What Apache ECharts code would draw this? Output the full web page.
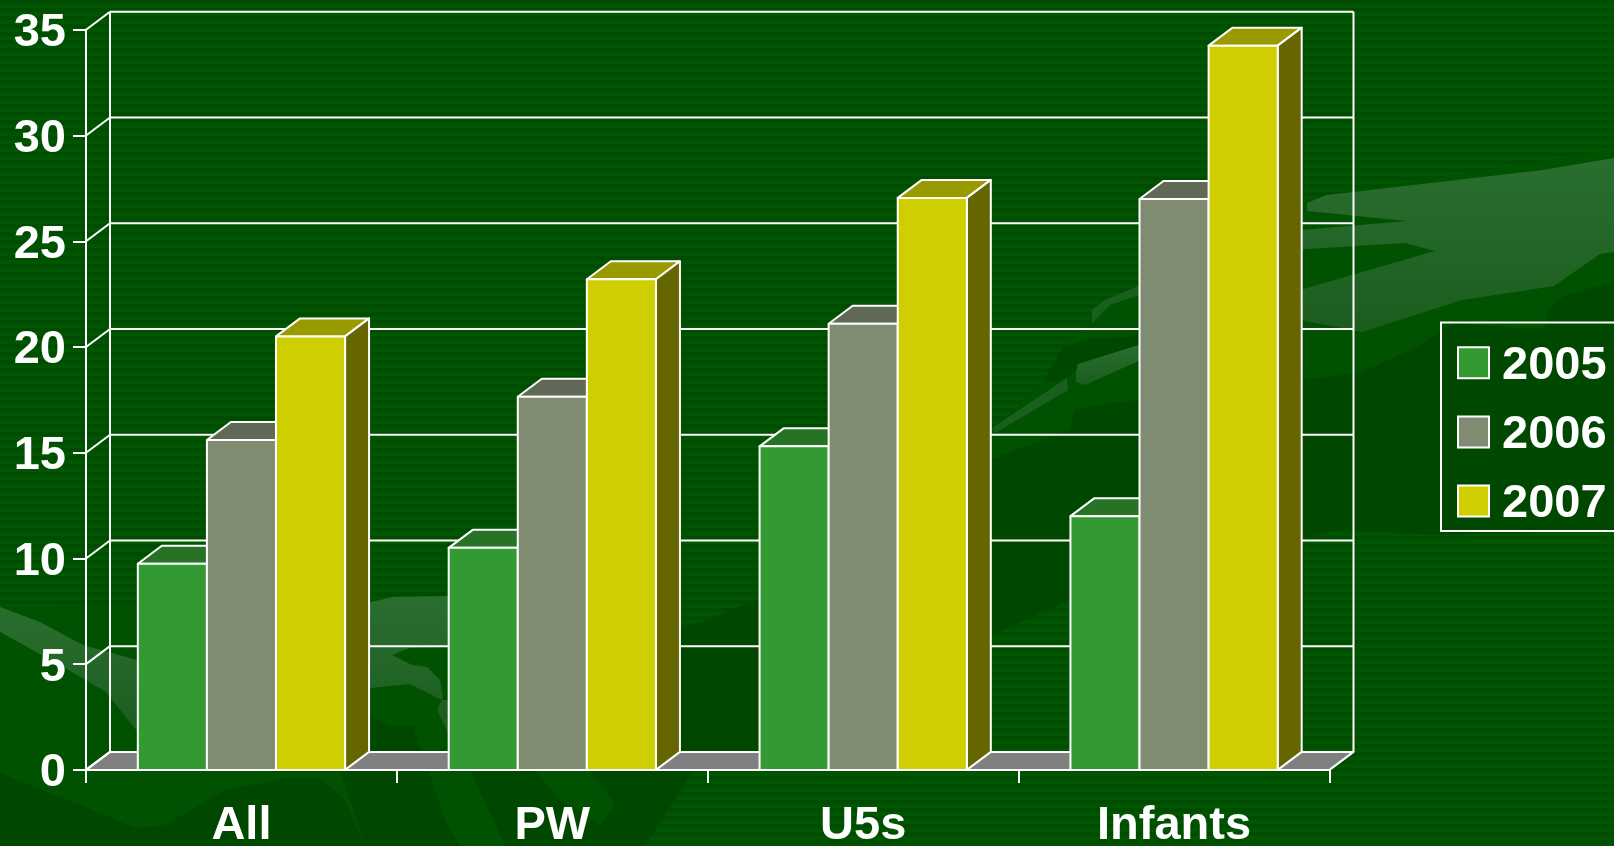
<!DOCTYPE html>
<html><head><meta charset="utf-8">
<style>html,body{margin:0;padding:0;background:#004f00}#c{width:1614px;height:846px}</style>
<script src="https://cdn.jsdelivr.net/npm/echarts@6/dist/echarts.min.js"></script>
</head><body><div id="c"></div>
<script>
const categories = ['All','PW','U5s','Infants'];
const years = ['2005','2006','2007'];
const values2005 = [9.75,10.5,15.3,12.0];
const values2006 = [15.6,17.65,21.1,27.0];
const values2007 = [20.5,23.2,27.05,34.25];
const yTicks = [0,5,10,15,20,25,30,35];

const FONT = '"Liberation Sans", Arial, sans-serif';
const DX = 24, DY = 18, LW = 2;
const palettes = [
  {front:'#339933', top:'#267326', side:'#1f5f1f'},
  {front:'#7F8C72', top:'#5F6955', side:'#4f5a46'},
  {front:'#CFCE00', top:'#999900', side:'#666600'}
];
const line = {stroke:'#fff', lineWidth:LW, lineJoin:'round'};

function barSeries(name, vals, k){
  const p = palettes[k];
  return {
    name, type:'custom', z:3+k, silent:true, animation:false,
    itemStyle:{color:p.front},
    encode:{x:0,y:1},
    data: vals.map((v,i)=>[i,v]),
    renderItem(params, api){
      const cat = api.value(0), val = api.value(1);
      const c = api.coord([cat,val]), b = api.coord([cat,0]);
      const w = api.size([1,0])[0]/4.5;
      const x0 = c[0]+(k-1.5)*w, x1 = x0+w, yt = c[1], yb = b[1];
      return {type:'group', children:[
        {type:'polygon', shape:{points:[[x0,yt],[x1,yt],[x1+DX,yt-DY],[x0+DX,yt-DY]]}, style:{fill:p.top,...line}},
        {type:'polygon', shape:{points:[[x1,yt],[x1+DX,yt-DY],[x1+DX,yb-DY],[x1,yb]]}, style:{fill:p.side,...line}},
        {type:'rect', shape:{x:x0,y:yt,width:w,height:yb-yt}, style:{fill:p.front,...line}}
      ]};
    }
  };
}
const wallSeries = {
  name:'walls', type:'custom', z:1, silent:true, animation:false,
  encode:{x:0,y:1},
  data: yTicks.map(v=>[0,v]),
  renderItem(params, api){
    const v = api.value(1);
    const cs = params.coordSys;
    const y = api.coord([0,v])[1];
    const x0 = cs.x, x1 = cs.x+cs.width;
    const kids = [];
    if(v===0){
      kids.push({type:'polygon', shape:{points:[[x0,y],[x0+DX,y-DY],[x1+DX,y-DY],[x1,y]]}, style:{fill:'#808080',...line}});
    }
    kids.push({type:'line', shape:{x1:x0,y1:y,x2:x0+DX,y2:y-DY}, style:line});
    kids.push({type:'line', shape:{x1:x0+DX,y1:y-DY,x2:x1+DX,y2:y-DY}, style:line});
    if(v===35){
      const yb = api.coord([0,0])[1];
      kids.push({type:'line', shape:{x1:x0+DX,y1:y-DY,x2:x0+DX,y2:yb-DY}, style:line});
      kids.push({type:'line', shape:{x1:x1+DX,y1:y-DY,x2:x1+DX,y2:yb-DY}, style:line});
    }
    return {type:'group', children:kids};
  }
};

/* striped slide background */
const stripe = document.createElement('canvas');
stripe.width = 8; stripe.height = 8;
const sc = stripe.getContext('2d');
sc.fillStyle = '#005500'; sc.fillRect(0,0,8,8);
sc.fillStyle = '#004C00'; sc.fillRect(0,0,8,4);

const MID='#005200', DARK='#004700', FAINT='#1A5F1E';
const LIGHT = new echarts.graphic.LinearGradient(0,0,0,1,[{offset:0,color:'#2A6E2F'},{offset:1,color:'#1C5D1F'}]);
const poly = (fill, pts)=>({type:'polygon', z:-10, silent:true, shape:{points:pts}, style:{fill}});
const decor = [
  poly(MID,[[0,607],[371,602],[448,596],[620,640],[680,628],[693,771],[645,846],[0,846]]),
  poly(LIGHT,[[0,607],[40,622],[83,645],[137,660],[140,735],[106,692],[60,665],[0,632]]),
  poly(LIGHT,[[340,606],[371,602],[393,597],[448,596],[448,647],[410,648],[392,655],[412,665],[427,667],[440,680],[443,697],[437,710],[448,733],[448,700],[442,700],[410,684],[371,688],[340,690]]),
  poly(DARK,[[0,773],[105,815],[135,828],[165,825],[225,790],[290,778],[320,778],[345,800],[365,846],[0,846]]),
  poly(DARK,[[371,716],[390,726],[413,726],[445,820],[460,846],[365,846],[340,770]]),
  poly(DARK,[[505,846],[470,770],[535,770],[560,800],[600,825],[615,805],[590,770],[620,645],[680,628],[713,618],[750,602],[800,590],[800,740],[693,771],[645,846]]),
  poly(MID,[[990,432],[1043,383],[1063,347],[1090,322],[1092,310],[1105,300],[1145,283],[1300,200],[1614,150],[1614,300],[1555,320],[1454,323],[1415,348],[1360,373],[1300,380],[1100,405],[1070,430],[990,460]]),
  poly(DARK,[[990,460],[1070,430],[1075,410],[1100,405],[1300,380],[1360,373],[1415,348],[1454,323],[1544,330],[1548,310],[1565,295],[1614,282],[1614,530],[1440,535],[1340,530],[1200,560],[1070,600],[990,636]]),
  poly(DARK,[[1043,383],[1063,347],[1093,338],[1127,337],[1145,331],[1145,346],[1077,368],[1067,378]]),
  poly(LIGHT,[[1614,158],[1543,170],[1327,195],[1307,203],[1307,211],[1407,221],[1290,231],[1290,250],[1405,243],[1435,251],[1290,293],[1290,318],[1362,332],[1462,300],[1554,286],[1600,254],[1614,252]]),
  poly(FAINT,[[1092,323],[1092,310],[1105,300],[1145,283],[1145,293],[1110,305]]),
  poly(LIGHT,[[1076,372],[1078,364],[1145,343],[1145,358],[1085,385],[1076,382]]),
  poly(FAINT,[[992,428],[1067,378],[1068,390],[995,433]])
];

const labelFont = {color:'#fff', fontFamily:FONT, fontWeight:'bold', fontSize:47};
const chart = echarts.init(document.getElementById('c'), null, {renderer:'canvas'});
chart.setOption({
  animation:false,
  backgroundColor:{image:stripe, repeat:'repeat'},
  graphic:{elements:decor},
  grid:{left:86, right:284.5, top:29.8, bottom:76.1, containLabel:false, outerBoundsMode:'none'},
  legend:{
    data:years, orient:'vertical', left:1441, top:322.5, align:'left',
    padding:[19.7,60,3.5,16], itemGap:22.2, itemWidth:31, itemHeight:31, icon:'rect',
    borderColor:'#fff', borderWidth:LW, selectedMode:false,
    itemStyle:{borderColor:'#fff', borderWidth:LW},
    formatter:'{a|{name}}',
    textStyle:{...labelFont, rich:{a:{...labelFont, padding:[6,0,0,8]}}}
  },
  xAxis:{
    type:'category', data:categories, boundaryGap:true,
    axisLine:{lineStyle:{color:'#fff', width:LW}},
    axisTick:{show:true, length:13, lineStyle:{color:'#fff', width:LW}},
    axisLabel:{...labelFont, margin:33, interval:0}
  },
  yAxis:{
    type:'value', min:0, max:35, interval:5,
    axisLine:{show:true, lineStyle:{color:'#fff', width:LW}},
    axisTick:{show:true, length:13, lineStyle:{color:'#fff', width:LW}},
    splitLine:{show:false},
    axisLabel:{...labelFont, margin:20, formatter:'{a|{value}}', rich:{a:{...labelFont, padding:[7,0,0,0]}}}
  },
  series:[wallSeries, barSeries(years[0],values2005,0), barSeries(years[1],values2006,1), barSeries(years[2],values2007,2)]
});
</script></body></html>
